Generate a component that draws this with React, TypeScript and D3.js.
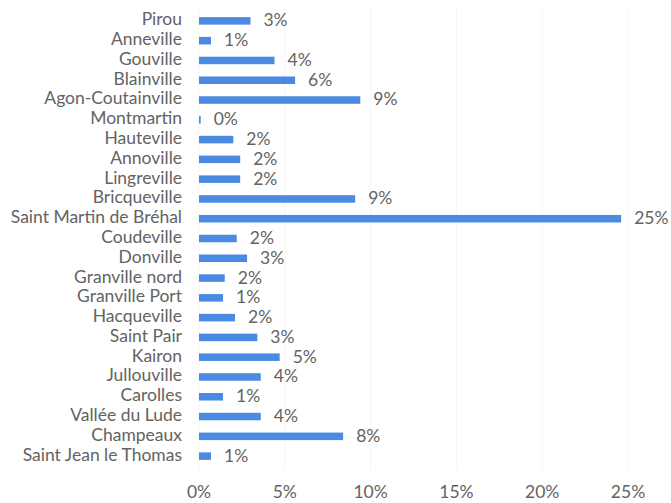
import { useEffect, useRef } from "react";
import * as d3 from "d3";

const communes = [
  "Pirou", "Anneville", "Gouville", "Blainville", "Agon-Coutainville", "Montmartin",
  "Hauteville", "Annoville", "Lingreville", "Bricqueville", "Saint Martin de Bréhal",
  "Coudeville", "Donville", "Granville nord", "Granville Port", "Hacqueville",
  "Saint Pair", "Kairon", "Jullouville", "Carolles", "Vallée du Lude", "Champeaux",
  "Saint Jean le Thomas",
];
const shares = [
  3.0, 0.7, 4.4, 5.6, 9.4, 0.1, 2.0, 2.4, 2.4, 9.1, 24.6, 2.2, 2.8, 1.5, 1.4, 2.1,
  3.4, 4.7, 3.6, 1.4, 3.6, 8.4, 0.7,
];
const xTicks = [0, 5, 10, 15, 20, 25];

const W = 671;
const H = 503;
const FONT = "Lato, 'Open Sans', sans-serif";
const GREY = "#636363";

export default function App() {
  const ref = useRef<SVGSVGElement | null>(null);

  useEffect(() => {
    if (!ref.current) return;
    const svg = d3.select(ref.current);
    svg.selectAll("*").remove();

    const x = d3.scaleLinear().domain([0, 25]).range([199, 628]);
    const y = d3.scaleBand().domain(communes).range([11, 466]).paddingInner(0.62).paddingOuter(0.31);

    // faint gridlines
    svg.append("g")
      .selectAll("line")
      .data(xTicks)
      .join("line")
      .attr("x1", d => x(d)).attr("x2", d => x(d))
      .attr("y1", 8).attr("y2", 470)
      .attr("stroke", "#f5f5f5").attr("stroke-width", 1);

    svg.append("g")
      .selectAll("rect")
      .data(communes)
      .join("rect")
      .attr("x", x(0))
      .attr("y", d => y(d) || 0)
      .attr("width", (_, i) => x(shares[i]) - x(0))
      .attr("height", y.bandwidth())
      .attr("fill", "#4a8ae0");

    const label = (sel: d3.Selection<any, any, any, any>) =>
      sel.style("font-family", FONT).style("font-size", "17.5px")
        .style("font-weight", 400).style("fill", GREY);

    // value labels
    svg.append("g")
      .selectAll("text")
      .data(communes)
      .join("text")
      .attr("x", (_, i) => x(shares[i]) + 13)
      .attr("y", d => (y(d) || 0) + y.bandwidth() / 2 + 1)
      .attr("dominant-baseline", "middle")
      .call(label)
      .text((_, i) => `${Math.round(shares[i])}%`);

    // category axis
    svg.append("g")
      .selectAll("text")
      .data(communes)
      .join("text")
      .attr("x", 182)
      .attr("y", d => (y(d) || 0) + y.bandwidth() / 2)
      .attr("text-anchor", "end")
      .attr("dominant-baseline", "middle")
      .call(label)
      .text(d => d);

    // value axis
    svg.append("g")
      .selectAll("text")
      .data(xTicks)
      .join("text")
      .attr("x", d => x(d))
      .attr("y", 494)
      .attr("text-anchor", "middle")
      .attr("dominant-baseline", "middle")
      .call(label)
      .text(d => `${d}%`);
  }, []);

  return (
    <svg
      ref={ref}
      width={W}
      height={H}
      style={{ position: "absolute", left: 0, top: 0, background: "#fff" }}
    />
  );
}
